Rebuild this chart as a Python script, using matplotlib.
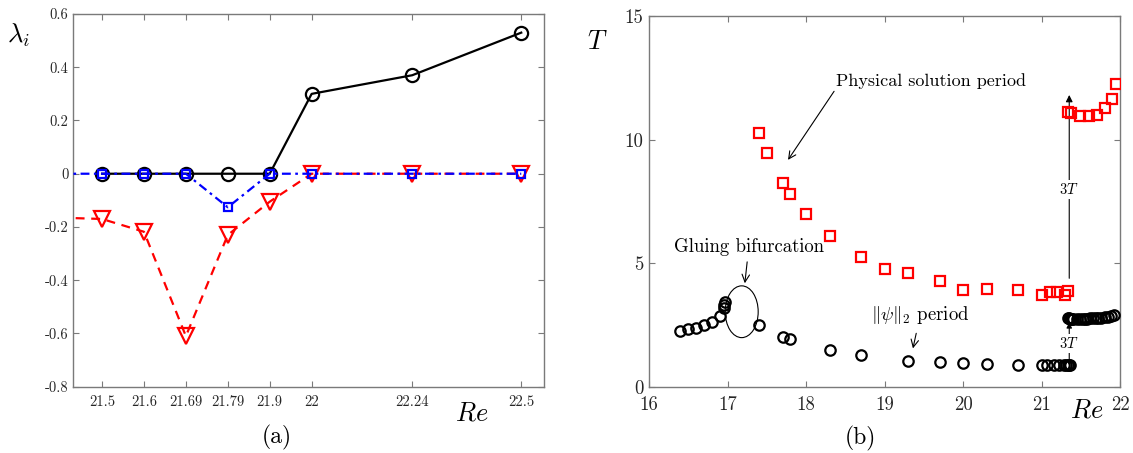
import matplotlib
matplotlib.use("Agg")
import matplotlib.pyplot as plt
from matplotlib.patches import Ellipse

plt.rcParams['font.family'] = ['cmr10', 'DejaVu Serif']
plt.rcParams['mathtext.fontset'] = 'cm'
plt.rcParams['axes.unicode_minus'] = False
plt.rcParams['axes.formatter.use_mathtext'] = True

# ---- panel (a): eigenvalues vs Re ----
re_a = [21.5, 21.6, 21.7, 21.8, 21.9, 22.0, 22.24, 22.5]
re_a_labels = ['21.5', '21.6', '21.69', '21.79', '21.9', '22', '22.24', '22.5']
lam_black = [0, 0, 0, 0, 0, 0.30, 0.37, 0.53]
re_ext = [21.4] + re_a
lam_red = [-0.165, -0.17, -0.218, -0.61, -0.23, -0.105, 0, 0, 0]
lam_blue = [0, 0, 0, 0, -0.126, 0, 0, 0, 0]
lam_ticks = [-0.8, -0.6, -0.4, -0.2, 0, 0.2, 0.4, 0.6]
lam_tick_labels = ['-0.8', '-0.6', '-0.4', '-0.2', '0', '0.2', '0.4', '0.6']

# ---- panel (b): periods vs Re ----
re_phys = [17.40, 17.50, 17.70, 17.80, 18.00, 18.30, 18.70, 19.00, 19.30, 19.70,
           20.00, 20.30, 20.70, 21.00, 21.10, 21.20, 21.30, 21.33,
           21.34, 21.37, 21.49, 21.60, 21.70, 21.80, 21.90, 21.95]
t_phys = [10.25, 9.46, 8.26, 7.79, 6.98, 6.11, 5.27, 4.79, 4.63, 4.28,
          3.93, 3.98, 3.91, 3.72, 3.83, 3.83, 3.72, 3.90,
          11.12, 11.08, 10.97, 10.95, 11.01, 11.26, 11.64, 12.23]
re_norm = [16.40, 16.50, 16.60, 16.70, 16.80, 16.90, 16.95, 16.96, 16.97,
           17.40, 17.70, 17.80, 18.30, 18.70, 19.30, 19.70, 20.00, 20.30, 20.70,
           21.00, 21.07, 21.15, 21.22, 21.28, 21.31, 21.33, 21.35, 21.36,
           21.34, 21.35, 21.36, 21.37, 21.38, 21.40, 21.45, 21.49, 21.52, 21.55,
           21.58, 21.62, 21.65, 21.69, 21.72, 21.76, 21.80, 21.84, 21.88, 21.92]
t_norm = [2.27, 2.34, 2.41, 2.52, 2.65, 2.88, 3.20, 3.32, 3.44,
          2.53, 2.04, 1.94, 1.51, 1.29, 1.08, 1.01, 0.97, 0.94, 0.91,
          0.91, 0.91, 0.91, 0.91, 0.91, 0.91, 0.91, 0.91, 0.91,
          2.78, 2.78, 2.77, 2.77, 2.77, 2.77, 2.77, 2.77, 2.77, 2.77,
          2.77, 2.78, 2.78, 2.79, 2.80, 2.81, 2.83, 2.85, 2.88, 2.92]
re_b_ticks = [16, 17, 18, 19, 20, 21, 22]
t_ticks = [0, 5, 10, 15]

W, H = 1133, 453
fig = plt.figure(figsize=(W / 100, H / 100), dpi=100)

def px_axes(x0, y0, x1, y1):
    return fig.add_axes([x0 / W, 1 - y1 / H, (x1 - x0) / W, (y1 - y0) / H])

frame_col = '#7a7a7a'
text_col = '#262626'

def style(ax, size):
    for s in ax.spines.values():
        s.set_color(frame_col)
        s.set_linewidth(1.0)
    ax.tick_params(direction='in', top=True, right=True, length=4, width=0.8,
                   color=frame_col, labelcolor=text_col, labelsize=size)

# panel (a)
ax1 = px_axes(72.7, 14, 544.3, 386.7)
ax1.plot(re_a, lam_black, '-', color='k', lw=1.6, marker='o', ms=9.5,
         mfc='none', mew=1.6, zorder=3)
ax1.plot(re_ext, lam_red, '--', color='#ff0000', lw=1.6, marker='v', ms=12,
         mfc='none', mew=1.6, zorder=4, dashes=(4, 3))
ax1.plot(re_ext, lam_blue, '-.', color='#0000ff', lw=1.6, marker='s', ms=6,
         mfc='none', mew=1.6, zorder=5, dashes=(4, 2, 1.2, 2))
ax1.set_xlim(21.43, 22.555)
ax1.set_ylim(-0.8, 0.6)
ax1.set_xticks(re_a)
ax1.set_xticklabels(re_a_labels)
ax1.set_yticks(lam_ticks)
ax1.set_yticklabels(lam_tick_labels)
style(ax1, 10.5)
ax1.tick_params(axis='x', pad=6)
ax1.tick_params(axis='y', pad=3)

# panel (b)
ax2 = px_axes(649, 15.7, 1120.3, 387.3)
ax2.plot(re_phys, t_phys, 's', color='#ff0000', ms=6.5, mfc='none', mew=1.6, zorder=3)
ax2.plot(re_norm, t_norm, 'o', color='k', ms=7.5, mfc='none', mew=1.6, zorder=4)
ax2.set_xlim(16, 22)
ax2.set_ylim(0, 15)
ax2.set_xticks(re_b_ticks)
ax2.set_xticklabels([str(v) for v in re_b_ticks])
ax2.set_yticks(t_ticks)
ax2.set_yticklabels([str(v) for v in t_ticks])
style(ax2, 13.5)
ax2.tick_params(axis='x', pad=6)
ax2.tick_params(axis='y', pad=4)

# annotations on panel (b)
ax2.annotate('Physical solution period', xy=(17.77, 9.18), xytext=(18.38, 12.38),
             fontsize=13, va='center', ha='left',
             arrowprops=dict(arrowstyle='->', lw=0.8, color='k',
                             shrinkA=0, shrinkB=0, relpos=(0.0, 0.0)))
ax2.annotate('Gluing bifurcation', xy=(17.22, 4.2), xytext=(17.27, 5.65),
             fontsize=13.5, va='center', ha='center',
             arrowprops=dict(arrowstyle='->', lw=0.8, color='k',
                             shrinkA=2, shrinkB=0))
ax2.add_patch(Ellipse((17.18, 3.05), 0.42, 2.09, fill=False, lw=0.8,
                      edgecolor='k', zorder=2))
ax2.annotate(r'$\Vert\psi\Vert_2$ period', xy=(19.36, 1.57), xytext=(18.82, 2.9),
             fontsize=13.5, va='center', ha='left',
             arrowprops=dict(arrowstyle='->', lw=0.8, color='k',
                             shrinkA=3, shrinkB=0, relpos=(0.48, 0.0)))
ax2.annotate('', xy=(21.35, 11.8), xytext=(21.35, 4.4),
             arrowprops=dict(arrowstyle='-|>', lw=0.8, color='k',
                             shrinkA=0, shrinkB=0, mutation_scale=10), zorder=2)
ax2.text(21.35, 7.97, '$3T$', fontsize=10.5, ha='center', va='center',
         bbox=dict(fc='white', ec='none', pad=1.5), zorder=2.5)
ax2.annotate('', xy=(21.35, 2.62), xytext=(21.35, 1.05),
             arrowprops=dict(arrowstyle='-|>', lw=0.8, color='k',
                             shrinkA=0, shrinkB=0, mutation_scale=8), zorder=2)
ax2.text(21.35, 1.78, '$3T$', fontsize=10.5, ha='center', va='center',
         bbox=dict(fc='white', ec='none', pad=1.5), zorder=2.5)

# axis titles and panel tags
fig.text(18 / W, 1 - 35 / H, r'$\lambda_i$', fontsize=19, ha='center', va='center')
fig.text(472 / W, 1 - 414 / H, r'$Re$', fontsize=19, ha='center', va='center')
fig.text(277 / W, 1 - 437 / H, '(a)', fontsize=17, ha='center', va='center')
fig.text(597 / W, 1 - 42 / H, r'$T$', fontsize=19, ha='center', va='center')
fig.text(1087 / W, 1 - 411 / H, r'$Re$', fontsize=19, ha='center', va='center')
fig.text(860 / W, 1 - 438 / H, '(b)', fontsize=17, ha='center', va='center')

fig.savefig('out.png', dpi=100)
